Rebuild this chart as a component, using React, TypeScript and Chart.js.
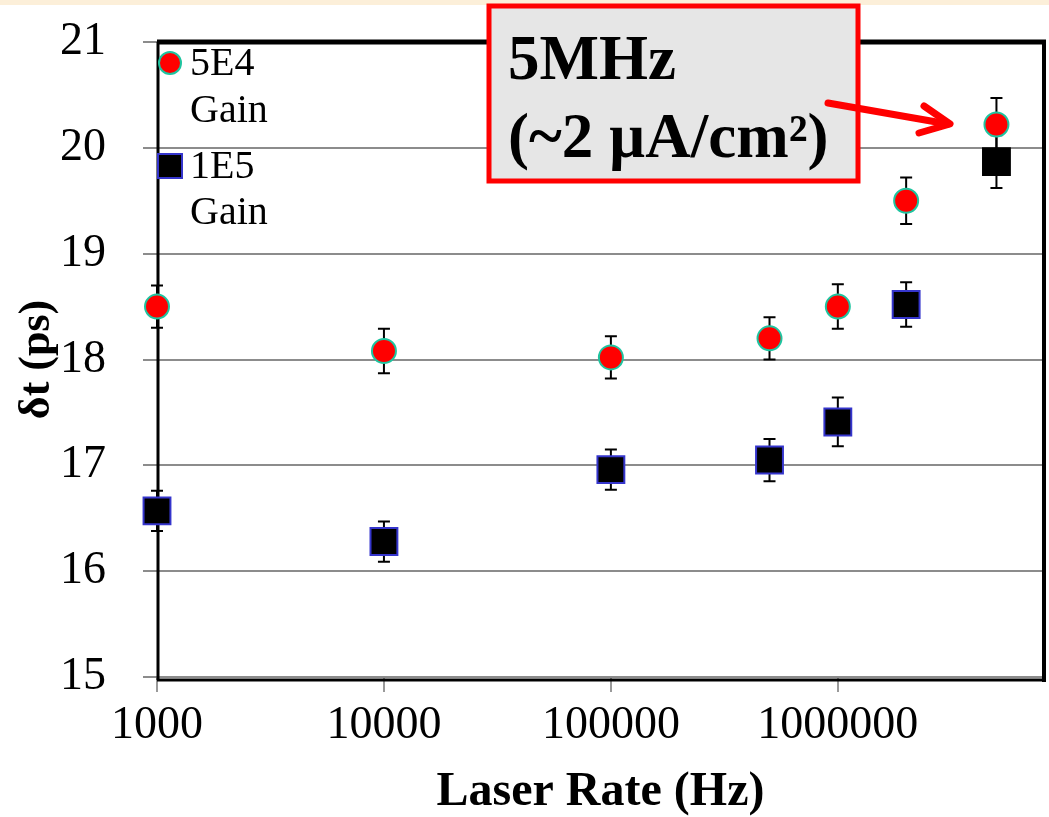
import React, { useEffect, useRef } from 'react';
import { Chart, registerables } from 'chart.js';

Chart.register(...registerables);

// ---- data ----
const laserRates = [1000, 10000, 100000, 500000, 1000000, 2000000, 5000000];
const gain5E4 = [18.5, 18.08, 18.02, 18.2, 18.5, 19.5, 20.22];
const err5E4 = [0.2, 0.21, 0.2, 0.2, 0.21, 0.22, 0.25];
const gain1E5 = [16.57, 16.28, 16.96, 17.05, 17.41, 18.52, 19.87];
const err1E5 = [0.19, 0.19, 0.19, 0.2, 0.23, 0.21, 0.25];
const xTickValues = [1000, 10000, 100000, 1000000];
const yTickMin = 15;
const yTickMax = 21;
const seriesLabels = [['5E4', 'Gain'], ['1E5', 'Gain']];
const yTitle = 'δt (ps)';
const xTitle = 'Laser Rate (Hz)';
const calloutLines = ['5MHz', '(~2 µA/cm²)'];

const W = 1049;
const H = 817;
const SERIF = '"Liberation Serif", "Times New Roman", serif';
const RED = '#ff0000';
const TEAL = '#1fc4a0';
const BLUE_EDGE = '#3535cc';

const errors = [err5E4, err1E5];

const decorPlugin = {
  id: 'decor',
  beforeDraw(chart: any) {
    const ctx = chart.ctx;
    ctx.save();
    ctx.fillStyle = '#ffffff';
    ctx.fillRect(0, 0, W, H);
    ctx.fillStyle = '#fcefd9';
    ctx.fillRect(0, 0, W, 5);
    ctx.restore();
  },
  beforeDatasetsDraw(chart: any) {
    const ctx = chart.ctx;
    const a = chart.chartArea;
    ctx.save();
    ctx.strokeStyle = '#000';
    ctx.lineCap = 'butt';
    // top
    ctx.lineWidth = 5;
    ctx.beginPath();
    ctx.moveTo(a.left, a.top);
    ctx.lineTo(a.right + 2, a.top);
    ctx.stroke();
    // right
    ctx.lineWidth = 4;
    ctx.beginPath();
    ctx.moveTo(a.right, a.top);
    ctx.lineTo(a.right, a.bottom + 5);
    ctx.stroke();
    // bottom
    ctx.lineWidth = 3;
    ctx.beginPath();
    ctx.moveTo(a.left, a.bottom + 3);
    ctx.lineTo(a.right + 2, a.bottom + 3);
    ctx.stroke();
    // left
    ctx.lineWidth = 3;
    ctx.beginPath();
    ctx.moveTo(a.left + 1, a.top);
    ctx.lineTo(a.left + 1, a.bottom + 3);
    ctx.stroke();

    // error bars
    const xs = chart.scales.x;
    const ys = chart.scales.y;
    ctx.lineWidth = 2;
    ctx.strokeStyle = '#000';
    chart.data.datasets.forEach((ds: any, di: number) => {
      ds.data.forEach((pt: any, i: number) => {
        const e = errors[di][i];
        const px = xs.getPixelForValue(pt.x);
        const yTop = ys.getPixelForValue(pt.y + e);
        const yBot = ys.getPixelForValue(pt.y - e);
        ctx.beginPath();
        ctx.moveTo(px, yTop);
        ctx.lineTo(px, yBot);
        ctx.moveTo(px - 6, yTop);
        ctx.lineTo(px + 6, yTop);
        ctx.moveTo(px - 6, yBot);
        ctx.lineTo(px + 6, yBot);
        ctx.stroke();
      });
    });
    ctx.restore();
  },
  afterDraw(chart: any) {
    const ctx = chart.ctx;
    ctx.save();
    // legend
    ctx.font = `40px ${SERIF}`;
    ctx.fillStyle = '#000';
    ctx.textBaseline = 'middle';
    ctx.textAlign = 'left';
    // series 1 marker
    ctx.beginPath();
    ctx.arc(170, 63, 11, 0, Math.PI * 2);
    ctx.fillStyle = RED;
    ctx.fill();
    ctx.lineWidth = 2;
    ctx.strokeStyle = TEAL;
    ctx.stroke();
    ctx.fillStyle = '#000';
    ctx.fillText(seriesLabels[0][0], 190, 64);
    ctx.fillText(seriesLabels[0][1], 190, 111);
    // series 2 marker
    ctx.fillStyle = '#000';
    ctx.fillRect(158, 154, 24, 24);
    ctx.strokeStyle = BLUE_EDGE;
    ctx.lineWidth = 2;
    ctx.strokeRect(158, 154, 24, 24);
    ctx.fillStyle = '#000';
    ctx.fillText(seriesLabels[1][0], 190, 167);
    ctx.fillText(seriesLabels[1][1], 190, 213);

    // callout box
    ctx.fillStyle = '#e6e6e6';
    ctx.fillRect(489, 6, 369, 175);
    ctx.strokeStyle = RED;
    ctx.lineWidth = 5;
    ctx.strokeRect(489, 6, 369, 175);
    ctx.fillStyle = '#000';
    ctx.font = `bold 63px ${SERIF}`;
    ctx.textBaseline = 'alphabetic';
    ctx.fillText(calloutLines[0], 508, 79);
    ctx.fillText(calloutLines[1], 508, 157);

    // arrow
    ctx.strokeStyle = RED;
    ctx.lineWidth = 7;
    ctx.lineCap = 'round';
    ctx.lineJoin = 'round';
    ctx.beginPath();
    ctx.moveTo(828, 103);
    ctx.lineTo(948, 124);
    ctx.stroke();
    ctx.beginPath();
    ctx.moveTo(924, 106);
    ctx.lineTo(950, 124);
    ctx.lineTo(919, 133);
    ctx.stroke();
    ctx.restore();
  },
};

export default function App() {
  const ref = useRef<HTMLCanvasElement | null>(null);

  useEffect(() => {
    document.body.style.margin = '0';
    const canvas = ref.current;
    if (!canvas) return;
    const chart = new Chart(canvas, {
      type: 'scatter',
      data: {
        datasets: [
          {
            label: seriesLabels[0].join(' '),
            data: laserRates.map((x, i) => ({ x, y: gain5E4[i] })),
            pointStyle: 'circle',
            pointRadius: 12,
            pointHoverRadius: 12,
            backgroundColor: RED,
            borderColor: TEAL,
            borderWidth: 2,
            clip: false,
          },
          {
            label: seriesLabels[1].join(' '),
            data: laserRates.map((x, i) => ({ x, y: gain1E5[i] })),
            pointStyle: 'rect',
            pointRadius: 19,
            pointHoverRadius: 19,
            backgroundColor: '#000',
            borderColor: laserRates.map((_, i) => (i === laserRates.length - 1 ? '#000' : BLUE_EDGE)),
            borderWidth: 2,
            clip: false,
          },
        ],
      },
      options: {
        animation: false,
        responsive: false,
        devicePixelRatio: 1,
        layout: { autoPadding: false, padding: { top: 42, right: 5, left: 0, bottom: 0 } },
        plugins: {
          legend: { display: false },
          tooltip: { enabled: false },
        },
        scales: {
          x: {
            type: 'logarithmic',
            min: 1000,
            max: 8.1e6,
            afterBuildTicks: (scale: any) => {
              scale.ticks = xTickValues.map((v) => ({ value: v }));
            },
            afterFit: (scale: any) => {
              scale.height = 140;
              scale.paddingLeft = 0;
              scale.paddingRight = 0;
            },
            ticks: {
              autoSkip: false,
              maxRotation: 0,
              minRotation: 0,
              padding: 6,
              color: '#000',
              font: { family: SERIF, size: 46 },
              callback: (v: any) => String(v),
            },
            grid: {
              drawOnChartArea: false,
              drawTicks: true,
              tickLength: 15,
              color: '#9a9a9a',
              lineWidth: 2,
            },
            border: { display: false },
            title: {
              display: true,
              text: xTitle,
              color: '#000',
              font: { family: SERIF, size: 48, weight: 'bold', lineHeight: 1 },
              padding: { top: 0, bottom: 0 },
            },
          },
          y: {
            type: 'linear',
            min: yTickMin,
            max: yTickMax,
            afterFit: (scale: any) => {
              scale.width = 157;
              scale.paddingTop = 0;
              scale.paddingBottom = 0;
            },
            ticks: {
              stepSize: 1,
              padding: 37,
              color: '#000',
              font: { family: SERIF, size: 46 },
            },
            grid: {
              color: '#8c8c8c',
              lineWidth: 2,
              tickLength: 14,
            },
            border: { display: false },
            title: {
              display: true,
              text: yTitle,
              color: '#000',
              font: { family: SERIF, size: 44, weight: 'bold', lineHeight: 1 },
              padding: { top: 16, bottom: 0 },
            },
          },
        },
      },
      plugins: [decorPlugin],
    } as any);
    return () => chart.destroy();
  }, []);

  return (
    <div style={{ width: W, height: H }}>
      <canvas ref={ref} width={W} height={H} style={{ display: 'block', width: W, height: H }} />
    </div>
  );
}
